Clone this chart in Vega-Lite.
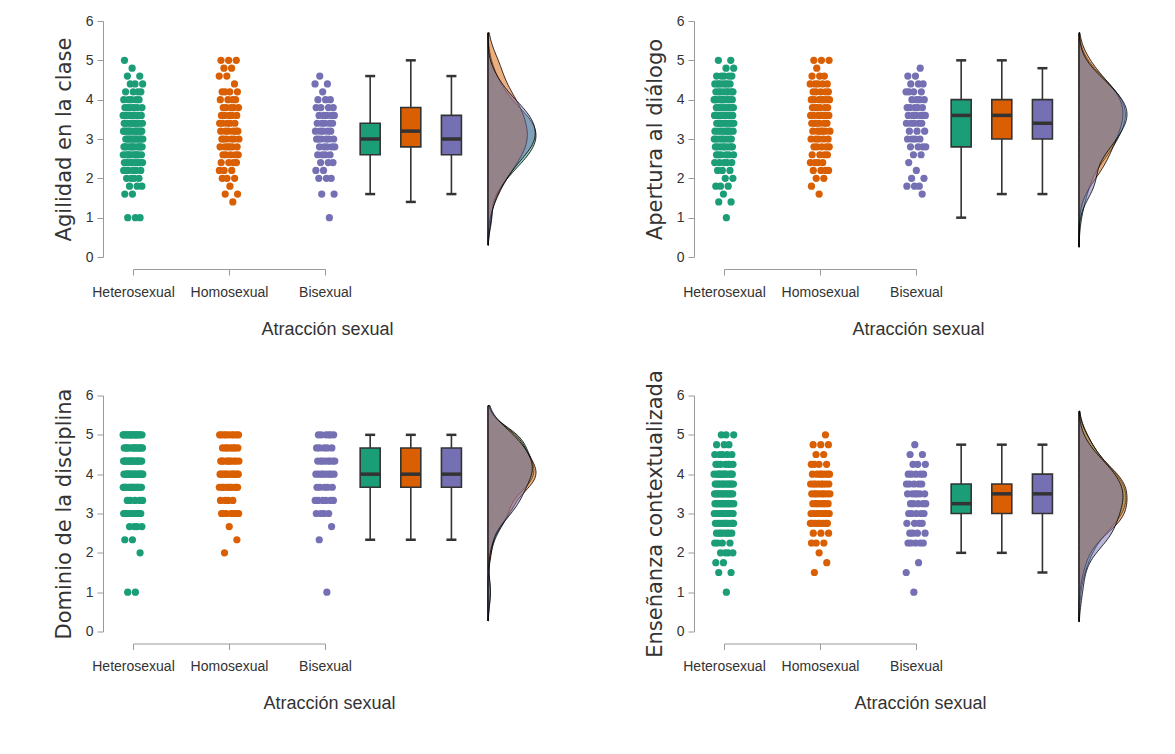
{
"$schema":"https://vega.github.io/schema/vega-lite/v6.json",
"padding":{"left":53,"top":14,"right":5,"bottom":5},
"background":"white",
"bounds":"flush",
"columns":6,
"spacing":{"row":138.5,"column":0},
"datasets":{
"grupos":[{"g":"He","grupo":"Heterosexual"},{"g":"Ho","grupo":"Homosexual"},{"g":"Bi","grupo":"Bisexual"}],
"cajas":[
{"p":"agil","g":"He","lo":1.6,"q1":2.6,"med":3.0,"q3":3.4,"hi":4.6},
{"p":"agil","g":"Ho","lo":1.4,"q1":2.8,"med":3.2,"q3":3.8,"hi":5.0},
{"p":"agil","g":"Bi","lo":1.6,"q1":2.6,"med":3.0,"q3":3.6,"hi":4.6},
{"p":"aper","g":"He","lo":1.0,"q1":2.8,"med":3.6,"q3":4.0,"hi":5.0},
{"p":"aper","g":"Ho","lo":1.6,"q1":3.0,"med":3.6,"q3":4.0,"hi":5.0},
{"p":"aper","g":"Bi","lo":1.6,"q1":3.0,"med":3.4,"q3":4.0,"hi":4.8},
{"p":"domi","g":"He","lo":2.333,"q1":3.667,"med":4.0,"q3":4.667,"hi":5.0},
{"p":"domi","g":"Ho","lo":2.333,"q1":3.667,"med":4.0,"q3":4.667,"hi":5.0},
{"p":"domi","g":"Bi","lo":2.333,"q1":3.667,"med":4.0,"q3":4.667,"hi":5.0},
{"p":"ense","g":"He","lo":2.0,"q1":3.0,"med":3.25,"q3":3.75,"hi":4.75},
{"p":"ense","g":"Ho","lo":2.0,"q1":3.0,"med":3.5,"q3":3.75,"hi":4.75},
{"p":"ense","g":"Bi","lo":1.5,"q1":3.0,"med":3.5,"q3":4.0,"hi":4.75}
],
"agil":[
{"g":"He","v":1},{"g":"He","v":1},{"g":"He","v":1},
{"g":"He","v":1.6},{"g":"He","v":1.6},
{"g":"He","v":1.8},{"g":"He","v":1.8},{"g":"He","v":1.8},
{"g":"He","v":2},{"g":"He","v":2},{"g":"He","v":2},{"g":"He","v":2},
{"g":"He","v":2.2},{"g":"He","v":2.2},{"g":"He","v":2.2},{"g":"He","v":2.2},{"g":"He","v":2.2},{"g":"He","v":2.2},
{"g":"He","v":2.4},{"g":"He","v":2.4},{"g":"He","v":2.4},{"g":"He","v":2.4},{"g":"He","v":2.4},{"g":"He","v":2.4},{"g":"He","v":2.4},{"g":"He","v":2.4},
{"g":"He","v":2.6},{"g":"He","v":2.6},{"g":"He","v":2.6},{"g":"He","v":2.6},{"g":"He","v":2.6},{"g":"He","v":2.6},{"g":"He","v":2.6},{"g":"He","v":2.6},{"g":"He","v":2.6},{"g":"He","v":2.6},
{"g":"He","v":2.8},{"g":"He","v":2.8},{"g":"He","v":2.8},{"g":"He","v":2.8},{"g":"He","v":2.8},{"g":"He","v":2.8},{"g":"He","v":2.8},{"g":"He","v":2.8},{"g":"He","v":2.8},{"g":"He","v":2.8},{"g":"He","v":2.8},
{"g":"He","v":3},{"g":"He","v":3},{"g":"He","v":3},{"g":"He","v":3},{"g":"He","v":3},{"g":"He","v":3},{"g":"He","v":3},{"g":"He","v":3},{"g":"He","v":3},{"g":"He","v":3},{"g":"He","v":3},{"g":"He","v":3},
{"g":"He","v":3.2},{"g":"He","v":3.2},{"g":"He","v":3.2},{"g":"He","v":3.2},{"g":"He","v":3.2},{"g":"He","v":3.2},{"g":"He","v":3.2},{"g":"He","v":3.2},{"g":"He","v":3.2},{"g":"He","v":3.2},{"g":"He","v":3.2},{"g":"He","v":3.2},
{"g":"He","v":3.4},{"g":"He","v":3.4},{"g":"He","v":3.4},{"g":"He","v":3.4},{"g":"He","v":3.4},{"g":"He","v":3.4},{"g":"He","v":3.4},{"g":"He","v":3.4},{"g":"He","v":3.4},{"g":"He","v":3.4},{"g":"He","v":3.4},
{"g":"He","v":3.6},{"g":"He","v":3.6},{"g":"He","v":3.6},{"g":"He","v":3.6},{"g":"He","v":3.6},{"g":"He","v":3.6},{"g":"He","v":3.6},{"g":"He","v":3.6},{"g":"He","v":3.6},{"g":"He","v":3.6},
{"g":"He","v":3.8},{"g":"He","v":3.8},{"g":"He","v":3.8},{"g":"He","v":3.8},{"g":"He","v":3.8},{"g":"He","v":3.8},{"g":"He","v":3.8},
{"g":"He","v":4},{"g":"He","v":4},{"g":"He","v":4},{"g":"He","v":4},{"g":"He","v":4},
{"g":"He","v":4.2},{"g":"He","v":4.2},{"g":"He","v":4.2},{"g":"He","v":4.2},
{"g":"He","v":4.4},{"g":"He","v":4.4},{"g":"He","v":4.4},
{"g":"He","v":4.6},{"g":"He","v":4.6},
{"g":"He","v":4.8},{"g":"He","v":5},
{"g":"Ho","v":1.4},{"g":"Ho","v":1.6},{"g":"Ho","v":1.6},{"g":"Ho","v":1.8},
{"g":"Ho","v":2},{"g":"Ho","v":2},{"g":"Ho","v":2},
{"g":"Ho","v":2.2},{"g":"Ho","v":2.2},{"g":"Ho","v":2.2},
{"g":"Ho","v":2.4},{"g":"Ho","v":2.4},{"g":"Ho","v":2.4},{"g":"Ho","v":2.4},
{"g":"Ho","v":2.6},{"g":"Ho","v":2.6},{"g":"Ho","v":2.6},{"g":"Ho","v":2.6},{"g":"Ho","v":2.6},
{"g":"Ho","v":2.8},{"g":"Ho","v":2.8},{"g":"Ho","v":2.8},{"g":"Ho","v":2.8},{"g":"Ho","v":2.8},{"g":"Ho","v":2.8},
{"g":"Ho","v":3},{"g":"Ho","v":3},{"g":"Ho","v":3},{"g":"Ho","v":3},{"g":"Ho","v":3},{"g":"Ho","v":3},
{"g":"Ho","v":3.2},{"g":"Ho","v":3.2},{"g":"Ho","v":3.2},{"g":"Ho","v":3.2},{"g":"Ho","v":3.2},{"g":"Ho","v":3.2},
{"g":"Ho","v":3.4},{"g":"Ho","v":3.4},{"g":"Ho","v":3.4},{"g":"Ho","v":3.4},{"g":"Ho","v":3.4},
{"g":"Ho","v":3.6},{"g":"Ho","v":3.6},{"g":"Ho","v":3.6},{"g":"Ho","v":3.6},{"g":"Ho","v":3.6},
{"g":"Ho","v":3.8},{"g":"Ho","v":3.8},{"g":"Ho","v":3.8},{"g":"Ho","v":3.8},{"g":"Ho","v":3.8},
{"g":"Ho","v":4},{"g":"Ho","v":4},{"g":"Ho","v":4},{"g":"Ho","v":4},
{"g":"Ho","v":4.2},{"g":"Ho","v":4.2},{"g":"Ho","v":4.2},{"g":"Ho","v":4.2},
{"g":"Ho","v":4.4},{"g":"Ho","v":4.6},{"g":"Ho","v":4.6},
{"g":"Ho","v":4.8},{"g":"Ho","v":4.8},
{"g":"Ho","v":5},{"g":"Ho","v":5},{"g":"Ho","v":5},
{"g":"Bi","v":1},{"g":"Bi","v":1.6},{"g":"Bi","v":1.6},
{"g":"Bi","v":2},{"g":"Bi","v":2},{"g":"Bi","v":2},
{"g":"Bi","v":2.2},{"g":"Bi","v":2.2},
{"g":"Bi","v":2.4},{"g":"Bi","v":2.4},{"g":"Bi","v":2.4},
{"g":"Bi","v":2.6},{"g":"Bi","v":2.6},{"g":"Bi","v":2.6},{"g":"Bi","v":2.6},
{"g":"Bi","v":2.8},{"g":"Bi","v":2.8},{"g":"Bi","v":2.8},{"g":"Bi","v":2.8},{"g":"Bi","v":2.8},
{"g":"Bi","v":3},{"g":"Bi","v":3},{"g":"Bi","v":3},{"g":"Bi","v":3},{"g":"Bi","v":3},{"g":"Bi","v":3},
{"g":"Bi","v":3.2},{"g":"Bi","v":3.2},{"g":"Bi","v":3.2},{"g":"Bi","v":3.2},{"g":"Bi","v":3.2},
{"g":"Bi","v":3.4},{"g":"Bi","v":3.4},{"g":"Bi","v":3.4},{"g":"Bi","v":3.4},{"g":"Bi","v":3.4},
{"g":"Bi","v":3.6},{"g":"Bi","v":3.6},{"g":"Bi","v":3.6},{"g":"Bi","v":3.6},{"g":"Bi","v":3.6},
{"g":"Bi","v":3.8},{"g":"Bi","v":3.8},{"g":"Bi","v":3.8},{"g":"Bi","v":3.8},
{"g":"Bi","v":4},{"g":"Bi","v":4},{"g":"Bi","v":4},
{"g":"Bi","v":4.2},{"g":"Bi","v":4.4},{"g":"Bi","v":4.4},{"g":"Bi","v":4.6}
],
"aper":[
{"g":"He","v":1},{"g":"He","v":1.4},{"g":"He","v":1.4},{"g":"He","v":1.6},
{"g":"He","v":1.8},{"g":"He","v":1.8},{"g":"He","v":1.8},
{"g":"He","v":2},{"g":"He","v":2},
{"g":"He","v":2.2},{"g":"He","v":2.2},{"g":"He","v":2.2},
{"g":"He","v":2.4},{"g":"He","v":2.4},{"g":"He","v":2.4},{"g":"He","v":2.4},{"g":"He","v":2.4},
{"g":"He","v":2.6},{"g":"He","v":2.6},{"g":"He","v":2.6},{"g":"He","v":2.6},{"g":"He","v":2.6},{"g":"He","v":2.6},
{"g":"He","v":2.8},{"g":"He","v":2.8},{"g":"He","v":2.8},{"g":"He","v":2.8},{"g":"He","v":2.8},{"g":"He","v":2.8},{"g":"He","v":2.8},{"g":"He","v":2.8},
{"g":"He","v":3},{"g":"He","v":3},{"g":"He","v":3},{"g":"He","v":3},{"g":"He","v":3},{"g":"He","v":3},{"g":"He","v":3},{"g":"He","v":3},
{"g":"He","v":3.2},{"g":"He","v":3.2},{"g":"He","v":3.2},{"g":"He","v":3.2},{"g":"He","v":3.2},{"g":"He","v":3.2},{"g":"He","v":3.2},{"g":"He","v":3.2},{"g":"He","v":3.2},
{"g":"He","v":3.4},{"g":"He","v":3.4},{"g":"He","v":3.4},{"g":"He","v":3.4},{"g":"He","v":3.4},{"g":"He","v":3.4},{"g":"He","v":3.4},{"g":"He","v":3.4},{"g":"He","v":3.4},{"g":"He","v":3.4},
{"g":"He","v":3.6},{"g":"He","v":3.6},{"g":"He","v":3.6},{"g":"He","v":3.6},{"g":"He","v":3.6},{"g":"He","v":3.6},{"g":"He","v":3.6},{"g":"He","v":3.6},{"g":"He","v":3.6},{"g":"He","v":3.6},{"g":"He","v":3.6},
{"g":"He","v":3.8},{"g":"He","v":3.8},{"g":"He","v":3.8},{"g":"He","v":3.8},{"g":"He","v":3.8},{"g":"He","v":3.8},{"g":"He","v":3.8},{"g":"He","v":3.8},{"g":"He","v":3.8},{"g":"He","v":3.8},
{"g":"He","v":4},{"g":"He","v":4},{"g":"He","v":4},{"g":"He","v":4},{"g":"He","v":4},{"g":"He","v":4},{"g":"He","v":4},{"g":"He","v":4},{"g":"He","v":4},{"g":"He","v":4},
{"g":"He","v":4.2},{"g":"He","v":4.2},{"g":"He","v":4.2},{"g":"He","v":4.2},{"g":"He","v":4.2},{"g":"He","v":4.2},{"g":"He","v":4.2},{"g":"He","v":4.2},
{"g":"He","v":4.4},{"g":"He","v":4.4},{"g":"He","v":4.4},{"g":"He","v":4.4},{"g":"He","v":4.4},{"g":"He","v":4.4},{"g":"He","v":4.4},
{"g":"He","v":4.6},{"g":"He","v":4.6},{"g":"He","v":4.6},{"g":"He","v":4.6},{"g":"He","v":4.6},
{"g":"He","v":4.8},{"g":"He","v":4.8},{"g":"He","v":5},{"g":"He","v":5},
{"g":"Ho","v":1.6},{"g":"Ho","v":1.8},{"g":"Ho","v":2},{"g":"Ho","v":2},
{"g":"Ho","v":2.2},{"g":"Ho","v":2.2},{"g":"Ho","v":2.2},{"g":"Ho","v":2.2},
{"g":"Ho","v":2.4},{"g":"Ho","v":2.4},{"g":"Ho","v":2.4},{"g":"Ho","v":2.4},
{"g":"Ho","v":2.6},{"g":"Ho","v":2.6},{"g":"Ho","v":2.6},{"g":"Ho","v":2.6},
{"g":"Ho","v":2.8},{"g":"Ho","v":2.8},{"g":"Ho","v":2.8},{"g":"Ho","v":2.8},{"g":"Ho","v":2.8},
{"g":"Ho","v":3},{"g":"Ho","v":3},{"g":"Ho","v":3},{"g":"Ho","v":3},{"g":"Ho","v":3},
{"g":"Ho","v":3.2},{"g":"Ho","v":3.2},{"g":"Ho","v":3.2},{"g":"Ho","v":3.2},{"g":"Ho","v":3.2},{"g":"Ho","v":3.2},
{"g":"Ho","v":3.4},{"g":"Ho","v":3.4},{"g":"Ho","v":3.4},{"g":"Ho","v":3.4},{"g":"Ho","v":3.4},{"g":"Ho","v":3.4},
{"g":"Ho","v":3.6},{"g":"Ho","v":3.6},{"g":"Ho","v":3.6},{"g":"Ho","v":3.6},{"g":"Ho","v":3.6},{"g":"Ho","v":3.6},{"g":"Ho","v":3.6},
{"g":"Ho","v":3.8},{"g":"Ho","v":3.8},{"g":"Ho","v":3.8},{"g":"Ho","v":3.8},{"g":"Ho","v":3.8},{"g":"Ho","v":3.8},
{"g":"Ho","v":4},{"g":"Ho","v":4},{"g":"Ho","v":4},{"g":"Ho","v":4},{"g":"Ho","v":4},{"g":"Ho","v":4},{"g":"Ho","v":4},
{"g":"Ho","v":4.2},{"g":"Ho","v":4.2},{"g":"Ho","v":4.2},{"g":"Ho","v":4.2},{"g":"Ho","v":4.2},
{"g":"Ho","v":4.4},{"g":"Ho","v":4.4},{"g":"Ho","v":4.4},{"g":"Ho","v":4.4},{"g":"Ho","v":4.4},
{"g":"Ho","v":4.6},{"g":"Ho","v":4.6},{"g":"Ho","v":4.6},
{"g":"Ho","v":4.8},{"g":"Ho","v":5},{"g":"Ho","v":5},{"g":"Ho","v":5},
{"g":"Bi","v":1.6},{"g":"Bi","v":1.8},{"g":"Bi","v":1.8},{"g":"Bi","v":1.8},
{"g":"Bi","v":2},{"g":"Bi","v":2},{"g":"Bi","v":2.2},{"g":"Bi","v":2.4},
{"g":"Bi","v":2.6},{"g":"Bi","v":2.6},
{"g":"Bi","v":2.8},{"g":"Bi","v":2.8},{"g":"Bi","v":2.8},{"g":"Bi","v":2.8},
{"g":"Bi","v":3},{"g":"Bi","v":3},{"g":"Bi","v":3},{"g":"Bi","v":3},
{"g":"Bi","v":3.2},{"g":"Bi","v":3.2},{"g":"Bi","v":3.2},
{"g":"Bi","v":3.4},{"g":"Bi","v":3.4},{"g":"Bi","v":3.4},{"g":"Bi","v":3.4},{"g":"Bi","v":3.4},
{"g":"Bi","v":3.6},{"g":"Bi","v":3.6},{"g":"Bi","v":3.6},{"g":"Bi","v":3.6},{"g":"Bi","v":3.6},{"g":"Bi","v":3.6},
{"g":"Bi","v":3.8},{"g":"Bi","v":3.8},{"g":"Bi","v":3.8},{"g":"Bi","v":3.8},{"g":"Bi","v":3.8},
{"g":"Bi","v":4},{"g":"Bi","v":4},{"g":"Bi","v":4},{"g":"Bi","v":4},
{"g":"Bi","v":4.2},{"g":"Bi","v":4.2},{"g":"Bi","v":4.2},{"g":"Bi","v":4.2},
{"g":"Bi","v":4.4},{"g":"Bi","v":4.4},{"g":"Bi","v":4.4},
{"g":"Bi","v":4.6},{"g":"Bi","v":4.6},{"g":"Bi","v":4.8}
],
"domi":[
{"g":"He","v":1},{"g":"He","v":1},{"g":"He","v":2},{"g":"He","v":2.333},{"g":"He","v":2.333},
{"g":"He","v":2.667},{"g":"He","v":2.667},{"g":"He","v":2.667},{"g":"He","v":2.667},
{"g":"He","v":3},{"g":"He","v":3},{"g":"He","v":3},{"g":"He","v":3},{"g":"He","v":3},{"g":"He","v":3},{"g":"He","v":3},{"g":"He","v":3},{"g":"He","v":3},{"g":"He","v":3},
{"g":"He","v":3.333},{"g":"He","v":3.333},{"g":"He","v":3.333},{"g":"He","v":3.333},{"g":"He","v":3.333},
{"g":"He","v":3.667},{"g":"He","v":3.667},{"g":"He","v":3.667},{"g":"He","v":3.667},{"g":"He","v":3.667},{"g":"He","v":3.667},{"g":"He","v":3.667},{"g":"He","v":3.667},{"g":"He","v":3.667},{"g":"He","v":3.667},{"g":"He","v":3.667},{"g":"He","v":3.667},{"g":"He","v":3.667},{"g":"He","v":3.667},{"g":"He","v":3.667},{"g":"He","v":3.667},
{"g":"He","v":4},{"g":"He","v":4},{"g":"He","v":4},{"g":"He","v":4},{"g":"He","v":4},{"g":"He","v":4},{"g":"He","v":4},{"g":"He","v":4},{"g":"He","v":4},{"g":"He","v":4},{"g":"He","v":4},{"g":"He","v":4},{"g":"He","v":4},{"g":"He","v":4},{"g":"He","v":4},{"g":"He","v":4},{"g":"He","v":4},{"g":"He","v":4},
{"g":"He","v":4.333},{"g":"He","v":4.333},{"g":"He","v":4.333},{"g":"He","v":4.333},{"g":"He","v":4.333},{"g":"He","v":4.333},{"g":"He","v":4.333},{"g":"He","v":4.333},{"g":"He","v":4.333},{"g":"He","v":4.333},{"g":"He","v":4.333},{"g":"He","v":4.333},{"g":"He","v":4.333},{"g":"He","v":4.333},{"g":"He","v":4.333},{"g":"He","v":4.333},{"g":"He","v":4.333},
{"g":"He","v":4.667},{"g":"He","v":4.667},{"g":"He","v":4.667},{"g":"He","v":4.667},{"g":"He","v":4.667},{"g":"He","v":4.667},{"g":"He","v":4.667},{"g":"He","v":4.667},{"g":"He","v":4.667},{"g":"He","v":4.667},{"g":"He","v":4.667},{"g":"He","v":4.667},
{"g":"He","v":5},{"g":"He","v":5},{"g":"He","v":5},{"g":"He","v":5},{"g":"He","v":5},{"g":"He","v":5},{"g":"He","v":5},{"g":"He","v":5},{"g":"He","v":5},{"g":"He","v":5},{"g":"He","v":5},{"g":"He","v":5},{"g":"He","v":5},{"g":"He","v":5},{"g":"He","v":5},{"g":"He","v":5},
{"g":"Ho","v":2},{"g":"Ho","v":2.333},{"g":"Ho","v":2.667},
{"g":"Ho","v":3},{"g":"Ho","v":3},{"g":"Ho","v":3},{"g":"Ho","v":3},{"g":"Ho","v":3},{"g":"Ho","v":3},{"g":"Ho","v":3},
{"g":"Ho","v":3.333},{"g":"Ho","v":3.333},{"g":"Ho","v":3.333},{"g":"Ho","v":3.333},
{"g":"Ho","v":3.667},{"g":"Ho","v":3.667},{"g":"Ho","v":3.667},{"g":"Ho","v":3.667},{"g":"Ho","v":3.667},{"g":"Ho","v":3.667},{"g":"Ho","v":3.667},{"g":"Ho","v":3.667},{"g":"Ho","v":3.667},{"g":"Ho","v":3.667},
{"g":"Ho","v":4},{"g":"Ho","v":4},{"g":"Ho","v":4},{"g":"Ho","v":4},{"g":"Ho","v":4},{"g":"Ho","v":4},{"g":"Ho","v":4},{"g":"Ho","v":4},{"g":"Ho","v":4},{"g":"Ho","v":4},{"g":"Ho","v":4},{"g":"Ho","v":4},
{"g":"Ho","v":4.333},{"g":"Ho","v":4.333},{"g":"Ho","v":4.333},{"g":"Ho","v":4.333},{"g":"Ho","v":4.333},{"g":"Ho","v":4.333},{"g":"Ho","v":4.333},{"g":"Ho","v":4.333},{"g":"Ho","v":4.333},{"g":"Ho","v":4.333},
{"g":"Ho","v":4.667},{"g":"Ho","v":4.667},{"g":"Ho","v":4.667},{"g":"Ho","v":4.667},{"g":"Ho","v":4.667},{"g":"Ho","v":4.667},{"g":"Ho","v":4.667},
{"g":"Ho","v":5},{"g":"Ho","v":5},{"g":"Ho","v":5},{"g":"Ho","v":5},{"g":"Ho","v":5},{"g":"Ho","v":5},{"g":"Ho","v":5},{"g":"Ho","v":5},{"g":"Ho","v":5},
{"g":"Bi","v":1},{"g":"Bi","v":2.333},{"g":"Bi","v":2.667},
{"g":"Bi","v":3},{"g":"Bi","v":3},{"g":"Bi","v":3},{"g":"Bi","v":3},
{"g":"Bi","v":3.333},{"g":"Bi","v":3.333},{"g":"Bi","v":3.333},{"g":"Bi","v":3.333},{"g":"Bi","v":3.333},{"g":"Bi","v":3.333},
{"g":"Bi","v":3.667},{"g":"Bi","v":3.667},{"g":"Bi","v":3.667},{"g":"Bi","v":3.667},{"g":"Bi","v":3.667},
{"g":"Bi","v":4},{"g":"Bi","v":4},{"g":"Bi","v":4},{"g":"Bi","v":4},{"g":"Bi","v":4},{"g":"Bi","v":4},{"g":"Bi","v":4},{"g":"Bi","v":4},
{"g":"Bi","v":4.333},{"g":"Bi","v":4.333},{"g":"Bi","v":4.333},{"g":"Bi","v":4.333},{"g":"Bi","v":4.333},{"g":"Bi","v":4.333},{"g":"Bi","v":4.333},{"g":"Bi","v":4.333},
{"g":"Bi","v":4.667},{"g":"Bi","v":4.667},{"g":"Bi","v":4.667},{"g":"Bi","v":4.667},{"g":"Bi","v":4.667},
{"g":"Bi","v":5},{"g":"Bi","v":5},{"g":"Bi","v":5},{"g":"Bi","v":5},{"g":"Bi","v":5},{"g":"Bi","v":5}
],
"ense":[
{"g":"He","v":1},{"g":"He","v":1.5},{"g":"He","v":1.5},{"g":"He","v":1.75},{"g":"He","v":1.75},
{"g":"He","v":2},{"g":"He","v":2},{"g":"He","v":2},{"g":"He","v":2},
{"g":"He","v":2.25},{"g":"He","v":2.25},{"g":"He","v":2.25},{"g":"He","v":2.25},
{"g":"He","v":2.5},{"g":"He","v":2.5},{"g":"He","v":2.5},{"g":"He","v":2.5},{"g":"He","v":2.5},{"g":"He","v":2.5},{"g":"He","v":2.5},
{"g":"He","v":2.75},{"g":"He","v":2.75},{"g":"He","v":2.75},{"g":"He","v":2.75},{"g":"He","v":2.75},{"g":"He","v":2.75},{"g":"He","v":2.75},{"g":"He","v":2.75},{"g":"He","v":2.75},{"g":"He","v":2.75},
{"g":"He","v":3},{"g":"He","v":3},{"g":"He","v":3},{"g":"He","v":3},{"g":"He","v":3},{"g":"He","v":3},{"g":"He","v":3},{"g":"He","v":3},{"g":"He","v":3},{"g":"He","v":3},{"g":"He","v":3},{"g":"He","v":3},{"g":"He","v":3},
{"g":"He","v":3.25},{"g":"He","v":3.25},{"g":"He","v":3.25},{"g":"He","v":3.25},{"g":"He","v":3.25},{"g":"He","v":3.25},{"g":"He","v":3.25},{"g":"He","v":3.25},{"g":"He","v":3.25},{"g":"He","v":3.25},{"g":"He","v":3.25},{"g":"He","v":3.25},{"g":"He","v":3.25},
{"g":"He","v":3.5},{"g":"He","v":3.5},{"g":"He","v":3.5},{"g":"He","v":3.5},{"g":"He","v":3.5},{"g":"He","v":3.5},{"g":"He","v":3.5},{"g":"He","v":3.5},{"g":"He","v":3.5},{"g":"He","v":3.5},{"g":"He","v":3.5},{"g":"He","v":3.5},{"g":"He","v":3.5},
{"g":"He","v":3.75},{"g":"He","v":3.75},{"g":"He","v":3.75},{"g":"He","v":3.75},{"g":"He","v":3.75},{"g":"He","v":3.75},{"g":"He","v":3.75},{"g":"He","v":3.75},{"g":"He","v":3.75},{"g":"He","v":3.75},{"g":"He","v":3.75},{"g":"He","v":3.75},{"g":"He","v":3.75},
{"g":"He","v":4},{"g":"He","v":4},{"g":"He","v":4},{"g":"He","v":4},{"g":"He","v":4},{"g":"He","v":4},{"g":"He","v":4},{"g":"He","v":4},{"g":"He","v":4},{"g":"He","v":4},{"g":"He","v":4},
{"g":"He","v":4.25},{"g":"He","v":4.25},{"g":"He","v":4.25},{"g":"He","v":4.25},{"g":"He","v":4.25},{"g":"He","v":4.25},{"g":"He","v":4.25},
{"g":"He","v":4.5},{"g":"He","v":4.5},{"g":"He","v":4.5},{"g":"He","v":4.5},{"g":"He","v":4.5},
{"g":"He","v":4.75},{"g":"He","v":4.75},{"g":"He","v":4.75},
{"g":"He","v":5},{"g":"He","v":5},{"g":"He","v":5},
{"g":"Ho","v":1.5},{"g":"Ho","v":1.75},{"g":"Ho","v":2},
{"g":"Ho","v":2.25},{"g":"Ho","v":2.25},{"g":"Ho","v":2.25},
{"g":"Ho","v":2.5},{"g":"Ho","v":2.5},{"g":"Ho","v":2.5},
{"g":"Ho","v":2.75},{"g":"Ho","v":2.75},{"g":"Ho","v":2.75},{"g":"Ho","v":2.75},{"g":"Ho","v":2.75},{"g":"Ho","v":2.75},{"g":"Ho","v":2.75},{"g":"Ho","v":2.75},
{"g":"Ho","v":3},{"g":"Ho","v":3},{"g":"Ho","v":3},{"g":"Ho","v":3},{"g":"Ho","v":3},{"g":"Ho","v":3},{"g":"Ho","v":3},{"g":"Ho","v":3},
{"g":"Ho","v":3.25},{"g":"Ho","v":3.25},{"g":"Ho","v":3.25},{"g":"Ho","v":3.25},{"g":"Ho","v":3.25},{"g":"Ho","v":3.25},{"g":"Ho","v":3.25},
{"g":"Ho","v":3.5},{"g":"Ho","v":3.5},{"g":"Ho","v":3.5},{"g":"Ho","v":3.5},{"g":"Ho","v":3.5},{"g":"Ho","v":3.5},{"g":"Ho","v":3.5},{"g":"Ho","v":3.5},
{"g":"Ho","v":3.75},{"g":"Ho","v":3.75},{"g":"Ho","v":3.75},{"g":"Ho","v":3.75},{"g":"Ho","v":3.75},{"g":"Ho","v":3.75},{"g":"Ho","v":3.75},{"g":"Ho","v":3.75},
{"g":"Ho","v":4},{"g":"Ho","v":4},{"g":"Ho","v":4},{"g":"Ho","v":4},{"g":"Ho","v":4},{"g":"Ho","v":4},{"g":"Ho","v":4},
{"g":"Ho","v":4.25},{"g":"Ho","v":4.25},{"g":"Ho","v":4.25},{"g":"Ho","v":4.25},
{"g":"Ho","v":4.5},{"g":"Ho","v":4.5},
{"g":"Ho","v":4.75},{"g":"Ho","v":4.75},{"g":"Ho","v":4.75},
{"g":"Ho","v":5},
{"g":"Bi","v":1},{"g":"Bi","v":1.5},{"g":"Bi","v":1.75},
{"g":"Bi","v":2.25},{"g":"Bi","v":2.25},{"g":"Bi","v":2.25},{"g":"Bi","v":2.25},{"g":"Bi","v":2.25},
{"g":"Bi","v":2.5},{"g":"Bi","v":2.5},{"g":"Bi","v":2.5},{"g":"Bi","v":2.5},
{"g":"Bi","v":2.75},{"g":"Bi","v":2.75},{"g":"Bi","v":2.75},{"g":"Bi","v":2.75},
{"g":"Bi","v":3},{"g":"Bi","v":3},{"g":"Bi","v":3},{"g":"Bi","v":3},{"g":"Bi","v":3},
{"g":"Bi","v":3.25},{"g":"Bi","v":3.25},{"g":"Bi","v":3.25},{"g":"Bi","v":3.25},{"g":"Bi","v":3.25},
{"g":"Bi","v":3.5},{"g":"Bi","v":3.5},{"g":"Bi","v":3.5},{"g":"Bi","v":3.5},{"g":"Bi","v":3.5},{"g":"Bi","v":3.5},
{"g":"Bi","v":3.75},{"g":"Bi","v":3.75},{"g":"Bi","v":3.75},{"g":"Bi","v":3.75},{"g":"Bi","v":3.75},
{"g":"Bi","v":4},{"g":"Bi","v":4},{"g":"Bi","v":4},{"g":"Bi","v":4},{"g":"Bi","v":4},
{"g":"Bi","v":4.25},{"g":"Bi","v":4.25},{"g":"Bi","v":4.25},
{"g":"Bi","v":4.5},{"g":"Bi","v":4.5},{"g":"Bi","v":4.75}
]
},
"concat":[
  {"width":192,"height":236,"data":{"name":"agil"},
   "transform":[{"lookup":"g","from":{"data":{"name":"grupos"},"key":"g","fields":["grupo"]}},{"window":[{"op":"row_number","as":"i"}]},{"calculate":"(datum.i*0.6180339887)%1-0.5","as":"j"}],
   "mark":{"type":"circle","size":52,"opacity":1},
   "encoding":{
    "x":{"field":"grupo","type":"nominal","sort":null,"scale":{"type":"point","domain":["Heterosexual","Homosexual","Bisexual"],"padding":0},"axis":{"title":"Atracción sexual","offset":12,"titleX":194,"titleY":65}},
    "xOffset":{"field":"j","type":"quantitative","scale":{"domain":[-0.5,0.5],"range":[-10,10]}},
    "y":{"field":"v","type":"quantitative","scale":{"domain":[0,6],"nice":false},"axis":{"title":"Agilidad en la clase","values":[0,1,2,3,4,5,6],"offset":30}},
    "color":{"field":"grupo","type":"nominal","scale":{"domain":["Heterosexual","Homosexual","Bisexual"],"range":["#1b9e77","#d95f02","#7570b3"]},"legend":null}}},
  {"width":162.5,"height":236,"data":{"name":"cajas"},
   "transform":[{"filter":"datum.p==='agil'"},{"lookup":"g","from":{"data":{"name":"grupos"},"key":"g","fields":["grupo"]}}],
   "encoding":{"x":{"field":"grupo","type":"nominal","scale":{"type":"point","domain":["Heterosexual","Homosexual","Bisexual"],"padding":1.11,"align":0.556},"axis":null}},
   "layer":[
    {"mark":{"type":"rule","color":"#333","strokeWidth":1.6},"encoding":{"y":{"field":"lo","type":"quantitative","scale":{"domain":[0,6],"nice":false},"axis":null},"y2":{"field":"hi"}}},
    {"mark":{"type":"tick","color":"#333","size":10,"thickness":2.5,"opacity":1},"encoding":{"y":{"field":"lo","type":"quantitative"}}},
    {"mark":{"type":"tick","color":"#333","size":10,"thickness":2.5,"opacity":1},"encoding":{"y":{"field":"hi","type":"quantitative"}}},
    {"mark":{"type":"bar","size":20,"stroke":"#333","strokeWidth":1.6},"encoding":{"y":{"field":"q1","type":"quantitative"},"y2":{"field":"q3"},"color":{"field":"grupo","type":"nominal","scale":{"domain":["Heterosexual","Homosexual","Bisexual"],"range":["#1b9e77","#d95f02","#7570b3"]},"legend":null}}},
    {"mark":{"type":"tick","color":"#333","size":20,"thickness":3.5,"opacity":1},"encoding":{"y":{"field":"med","type":"quantitative"}}}
   ]},
  {"width":235.5,"height":236,"data":{"name":"agil"},
   "transform":[{"lookup":"g","from":{"data":{"name":"grupos"},"key":"g","fields":["grupo"]}},{"density":"v","groupby":["grupo"],"extent":[0.3,5.7],"steps":120}],
   "mark":{"type":"area","orient":"horizontal","fillOpacity":0.5,"stroke":"black","strokeWidth":0.8},
   "encoding":{
    "y":{"field":"value","type":"quantitative","scale":{"domain":[0,6],"nice":false},"axis":null},
    "x":{"field":"density","type":"quantitative","stack":null,"scale":{"zero":true,"nice":false,"range":[0,48]},"axis":null},
    "color":{"field":"grupo","type":"nominal","scale":{"domain":["Heterosexual","Homosexual","Bisexual"],"range":["#1b9e77","#d95f02","#7570b3"]},"legend":null}}},
  {"width":192,"height":236,"data":{"name":"aper"},
   "transform":[{"lookup":"g","from":{"data":{"name":"grupos"},"key":"g","fields":["grupo"]}},{"window":[{"op":"row_number","as":"i"}]},{"calculate":"(datum.i*0.6180339887)%1-0.5","as":"j"}],
   "mark":{"type":"circle","size":52,"opacity":1},
   "encoding":{
    "x":{"field":"grupo","type":"nominal","sort":null,"scale":{"type":"point","domain":["Heterosexual","Homosexual","Bisexual"],"padding":0},"axis":{"title":"Atracción sexual","offset":12,"titleX":194,"titleY":65}},
    "xOffset":{"field":"j","type":"quantitative","scale":{"domain":[-0.5,0.5],"range":[-10,10]}},
    "y":{"field":"v","type":"quantitative","scale":{"domain":[0,6],"nice":false},"axis":{"title":"Apertura al diálogo","values":[0,1,2,3,4,5,6],"offset":30}},
    "color":{"field":"grupo","type":"nominal","scale":{"domain":["Heterosexual","Homosexual","Bisexual"],"range":["#1b9e77","#d95f02","#7570b3"]},"legend":null}}},
  {"width":162.5,"height":236,"data":{"name":"cajas"},
   "transform":[{"filter":"datum.p==='aper'"},{"lookup":"g","from":{"data":{"name":"grupos"},"key":"g","fields":["grupo"]}}],
   "encoding":{"x":{"field":"grupo","type":"nominal","scale":{"type":"point","domain":["Heterosexual","Homosexual","Bisexual"],"padding":1.11,"align":0.556},"axis":null}},
   "layer":[
    {"mark":{"type":"rule","color":"#333","strokeWidth":1.6},"encoding":{"y":{"field":"lo","type":"quantitative","scale":{"domain":[0,6],"nice":false},"axis":null},"y2":{"field":"hi"}}},
    {"mark":{"type":"tick","color":"#333","size":10,"thickness":2.5,"opacity":1},"encoding":{"y":{"field":"lo","type":"quantitative"}}},
    {"mark":{"type":"tick","color":"#333","size":10,"thickness":2.5,"opacity":1},"encoding":{"y":{"field":"hi","type":"quantitative"}}},
    {"mark":{"type":"bar","size":20,"stroke":"#333","strokeWidth":1.6},"encoding":{"y":{"field":"q1","type":"quantitative"},"y2":{"field":"q3"},"color":{"field":"grupo","type":"nominal","scale":{"domain":["Heterosexual","Homosexual","Bisexual"],"range":["#1b9e77","#d95f02","#7570b3"]},"legend":null}}},
    {"mark":{"type":"tick","color":"#333","size":20,"thickness":3.5,"opacity":1},"encoding":{"y":{"field":"med","type":"quantitative"}}}
   ]},
  {"width":48,"height":236,"data":{"name":"aper"},
   "transform":[{"lookup":"g","from":{"data":{"name":"grupos"},"key":"g","fields":["grupo"]}},{"density":"v","groupby":["grupo"],"extent":[0.25,5.7],"steps":120}],
   "mark":{"type":"area","orient":"horizontal","fillOpacity":0.5,"stroke":"black","strokeWidth":0.8},
   "encoding":{
    "y":{"field":"value","type":"quantitative","scale":{"domain":[0,6],"nice":false},"axis":null},
    "x":{"field":"density","type":"quantitative","stack":null,"scale":{"zero":true,"nice":false,"range":[0,48]},"axis":null},
    "color":{"field":"grupo","type":"nominal","scale":{"domain":["Heterosexual","Homosexual","Bisexual"],"range":["#1b9e77","#d95f02","#7570b3"]},"legend":null}}},
  {"width":192,"height":236,"data":{"name":"domi"},
   "transform":[{"lookup":"g","from":{"data":{"name":"grupos"},"key":"g","fields":["grupo"]}},{"window":[{"op":"row_number","as":"i"}]},{"calculate":"(datum.i*0.6180339887)%1-0.5","as":"j"}],
   "mark":{"type":"circle","size":52,"opacity":1},
   "encoding":{
    "x":{"field":"grupo","type":"nominal","sort":null,"scale":{"type":"point","domain":["Heterosexual","Homosexual","Bisexual"],"padding":0},"axis":{"title":"Atracción sexual","offset":12,"titleX":196,"titleY":65}},
    "xOffset":{"field":"j","type":"quantitative","scale":{"domain":[-0.5,0.5],"range":[-10,10]}},
    "y":{"field":"v","type":"quantitative","scale":{"domain":[0,6],"nice":false},"axis":{"title":"Dominio de la disciplina","values":[0,1,2,3,4,5,6],"offset":30}},
    "color":{"field":"grupo","type":"nominal","scale":{"domain":["Heterosexual","Homosexual","Bisexual"],"range":["#1b9e77","#d95f02","#7570b3"]},"legend":null}}},
  {"width":162.5,"height":236,"data":{"name":"cajas"},
   "transform":[{"filter":"datum.p==='domi'"},{"lookup":"g","from":{"data":{"name":"grupos"},"key":"g","fields":["grupo"]}}],
   "encoding":{"x":{"field":"grupo","type":"nominal","scale":{"type":"point","domain":["Heterosexual","Homosexual","Bisexual"],"padding":1.11,"align":0.556},"axis":null}},
   "layer":[
    {"mark":{"type":"rule","color":"#333","strokeWidth":1.6},"encoding":{"y":{"field":"lo","type":"quantitative","scale":{"domain":[0,6],"nice":false},"axis":null},"y2":{"field":"hi"}}},
    {"mark":{"type":"tick","color":"#333","size":10,"thickness":2.5,"opacity":1},"encoding":{"y":{"field":"lo","type":"quantitative"}}},
    {"mark":{"type":"tick","color":"#333","size":10,"thickness":2.5,"opacity":1},"encoding":{"y":{"field":"hi","type":"quantitative"}}},
    {"mark":{"type":"bar","size":20,"stroke":"#333","strokeWidth":1.6},"encoding":{"y":{"field":"q1","type":"quantitative"},"y2":{"field":"q3"},"color":{"field":"grupo","type":"nominal","scale":{"domain":["Heterosexual","Homosexual","Bisexual"],"range":["#1b9e77","#d95f02","#7570b3"]},"legend":null}}},
    {"mark":{"type":"tick","color":"#333","size":20,"thickness":3.5,"opacity":1},"encoding":{"y":{"field":"med","type":"quantitative"}}}
   ]},
  {"width":235.5,"height":236,"data":{"name":"domi"},
   "transform":[{"lookup":"g","from":{"data":{"name":"grupos"},"key":"g","fields":["grupo"]}},{"density":"v","groupby":["grupo"],"extent":[0.27,5.74],"steps":120}],
   "mark":{"type":"area","orient":"horizontal","fillOpacity":0.5,"stroke":"black","strokeWidth":0.8},
   "encoding":{
    "y":{"field":"value","type":"quantitative","scale":{"domain":[0,6],"nice":false},"axis":null},
    "x":{"field":"density","type":"quantitative","stack":null,"scale":{"zero":true,"nice":false,"range":[0,48]},"axis":null},
    "color":{"field":"grupo","type":"nominal","scale":{"domain":["Heterosexual","Homosexual","Bisexual"],"range":["#1b9e77","#d95f02","#7570b3"]},"legend":null}}},
  {"width":192,"height":236,"data":{"name":"ense"},
   "transform":[{"lookup":"g","from":{"data":{"name":"grupos"},"key":"g","fields":["grupo"]}},{"window":[{"op":"row_number","as":"i"}]},{"calculate":"(datum.i*0.6180339887)%1-0.5","as":"j"}],
   "mark":{"type":"circle","size":52,"opacity":1},
   "encoding":{
    "x":{"field":"grupo","type":"nominal","sort":null,"scale":{"type":"point","domain":["Heterosexual","Homosexual","Bisexual"],"padding":0},"axis":{"title":"Atracción sexual","offset":12,"titleX":196,"titleY":65}},
    "xOffset":{"field":"j","type":"quantitative","scale":{"domain":[-0.5,0.5],"range":[-10,10]}},
    "y":{"field":"v","type":"quantitative","scale":{"domain":[0,6],"nice":false},"axis":{"title":"Enseñanza contextualizada","values":[0,1,2,3,4,5,6],"offset":30}},
    "color":{"field":"grupo","type":"nominal","scale":{"domain":["Heterosexual","Homosexual","Bisexual"],"range":["#1b9e77","#d95f02","#7570b3"]},"legend":null}}},
  {"width":162.5,"height":236,"data":{"name":"cajas"},
   "transform":[{"filter":"datum.p==='ense'"},{"lookup":"g","from":{"data":{"name":"grupos"},"key":"g","fields":["grupo"]}}],
   "encoding":{"x":{"field":"grupo","type":"nominal","scale":{"type":"point","domain":["Heterosexual","Homosexual","Bisexual"],"padding":1.11,"align":0.556},"axis":null}},
   "layer":[
    {"mark":{"type":"rule","color":"#333","strokeWidth":1.6},"encoding":{"y":{"field":"lo","type":"quantitative","scale":{"domain":[0,6],"nice":false},"axis":null},"y2":{"field":"hi"}}},
    {"mark":{"type":"tick","color":"#333","size":10,"thickness":2.5,"opacity":1},"encoding":{"y":{"field":"lo","type":"quantitative"}}},
    {"mark":{"type":"tick","color":"#333","size":10,"thickness":2.5,"opacity":1},"encoding":{"y":{"field":"hi","type":"quantitative"}}},
    {"mark":{"type":"bar","size":20,"stroke":"#333","strokeWidth":1.6},"encoding":{"y":{"field":"q1","type":"quantitative"},"y2":{"field":"q3"},"color":{"field":"grupo","type":"nominal","scale":{"domain":["Heterosexual","Homosexual","Bisexual"],"range":["#1b9e77","#d95f02","#7570b3"]},"legend":null}}},
    {"mark":{"type":"tick","color":"#333","size":20,"thickness":3.5,"opacity":1},"encoding":{"y":{"field":"med","type":"quantitative"}}}
   ]},
  {"width":48,"height":236,"data":{"name":"ense"},
   "transform":[{"lookup":"g","from":{"data":{"name":"grupos"},"key":"g","fields":["grupo"]}},{"density":"v","groupby":["grupo"],"extent":[0.25,5.6],"steps":120}],
   "mark":{"type":"area","orient":"horizontal","fillOpacity":0.5,"stroke":"black","strokeWidth":0.8},
   "encoding":{
    "y":{"field":"value","type":"quantitative","scale":{"domain":[0,6],"nice":false},"axis":null},
    "x":{"field":"density","type":"quantitative","stack":null,"scale":{"zero":true,"nice":false,"range":[0,48]},"axis":null},
    "color":{"field":"grupo","type":"nominal","scale":{"domain":["Heterosexual","Homosexual","Bisexual"],"range":["#1b9e77","#d95f02","#7570b3"]},"legend":null}}}
],
"config":{
 "view":{"stroke":null},
 "font":"Liberation Sans",
 "axis":{"grid":false,"domainColor":"#9a9a9a","tickColor":"#9a9a9a","domainWidth":1,"tickWidth":1,"tickSize":6,"labelColor":"#333","titleColor":"#333","labelFont":"Liberation Sans","labelFontSize":14,"titleFontWeight":"normal"},
 "axisX":{"labelAngle":0,"labelPadding":10,"titleFont":"Liberation Sans","titleFontSize":18,"titleBaseline":"alphabetic"},
 "axisY":{"labelPadding":4,"titleFont":"DejaVu Sans","titleFontSize":21,"titlePadding":11}
}
}
